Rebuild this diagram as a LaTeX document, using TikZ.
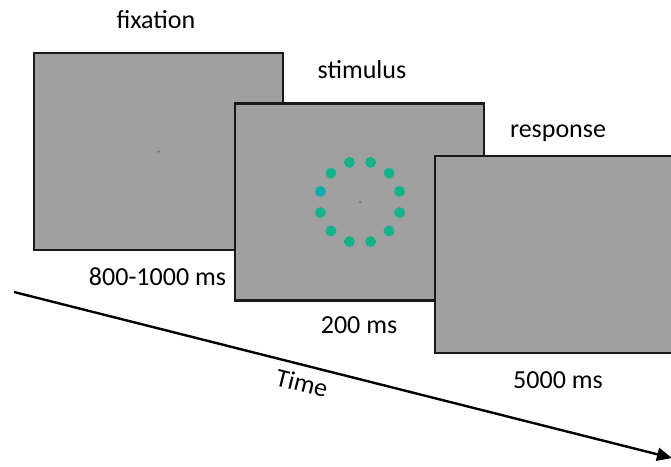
\documentclass[tikz,border=0pt]{standalone}
\usepackage{fontspec}
\setmainfont{Carlito}
\usetikzlibrary{arrows.meta}
\definecolor{screengray}{RGB}{160,160,160}
\definecolor{frame}{RGB}{25,25,25}
\definecolor{dotteal}{RGB}{22,178,140}
\definecolor{dotcyan}{RGB}{22,170,175}
\definecolor{fixgray}{RGB}{120,120,120}
\begin{document}
\begin{tikzpicture}[x=1pt,y=-1pt,
  screen/.style={draw=frame, fill=screengray, line width=2.2pt, inner sep=0pt,
    minimum width=249pt, minimum height=197pt},
  lbl/.style={font=\fontsize{26}{30}\selectfont, anchor=base, inner sep=0pt},
  stimdot/.style={circle, fill=dotteal, inner sep=0pt, minimum size=11pt},
  fixdot/.style={circle, fill=fixgray, inner sep=0pt, minimum size=2.5pt}]
\useasboundingbox (0,0) rectangle (671,466);
% screens
\node[screen] (fix) at (158.5,151.5) {};
\node[fixdot] (fixpt) at (fix.center) {};
\node[screen] (stim) at (359.5,202) {};
\node[fixdot] (stimpt) at (360,202) {};
\foreach \k in {0,...,11}{
  \pgfmathsetmacro{\ang}{15+30*\k}
  \ifnum\k=5
    \node[stimdot, fill=dotcyan] (d\k) at ({360+41*cos(\ang)},{202-41*sin(\ang)}) {};
  \else
    \node[stimdot] (d\k) at ({360+41*cos(\ang)},{202-41*sin(\ang)}) {};
  \fi
}
\node[screen] (resp) at (559.5,254.5) {};
% labels
\node[lbl] (tfix) at (156,28) {fixation};
\node[lbl] (tstim) at (362,78) {stimulus};
\node[lbl] (tresp) at (558,137) {response};
\node[lbl] (dfix) at (157.5,285) {800-1000 ms};
\node[lbl] (dstim) at (359,333) {200 ms};
\node[lbl] (dresp) at (558,388) {5000 ms};
% time axis
\coordinate (tstart) at (14,292);
\coordinate (tend) at (672,458);
\draw[line width=2.4pt, -{Triangle[length=15pt,width=13pt]}] (tstart) -- (tend);
\node[font=\fontsize{26}{30}\selectfont, rotate=-14.2, inner sep=0pt] (time) at (302,383) {Time};
\end{tikzpicture}
\end{document}
